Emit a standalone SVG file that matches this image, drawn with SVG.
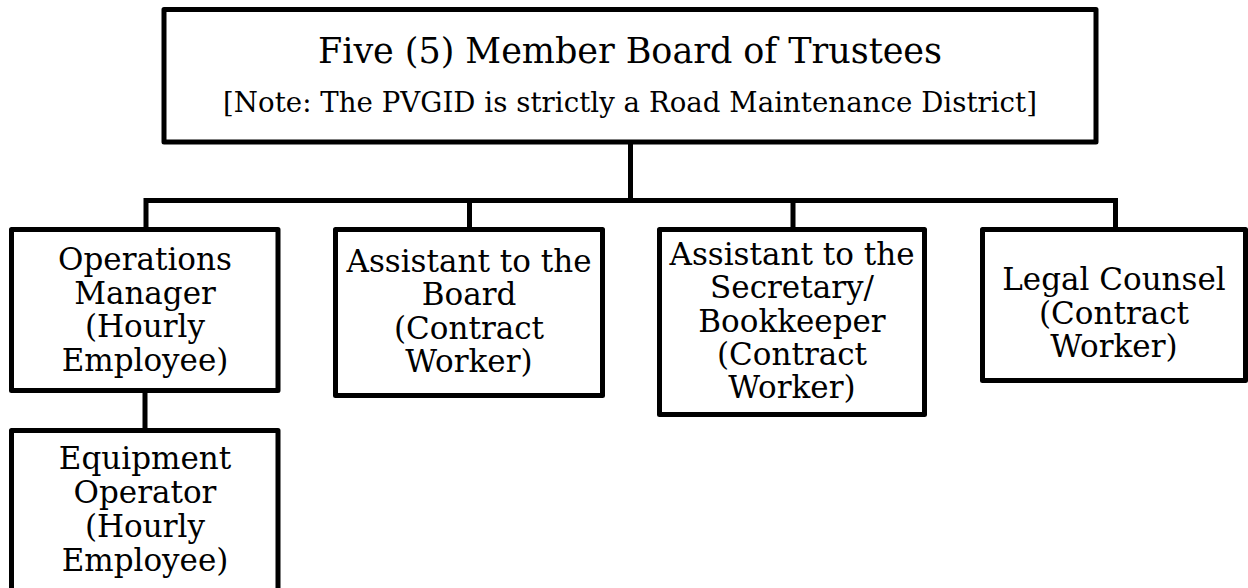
<svg xmlns="http://www.w3.org/2000/svg" width="1248" height="588" viewBox="0 0 1248 588">
<style>
.box{fill:#fff;stroke:#000;stroke-width:5;stroke-linejoin:round}
.conn{fill:none;stroke:#000;stroke-width:5;stroke-linecap:butt}
text{font-family:"DejaVu Serif","Liberation Serif",serif;fill:#000;text-anchor:middle}
.t{font-size:31px}
.title{font-size:35px}
.note{font-size:27.6px}
</style>
<rect width="1248" height="588" fill="#fff"/>
<g id="connectors">
<path class="conn" d="M630.5 142V200.5M146 200.5H1115.5M146 198V229.5M469.5 200.5V229.5M793 200.5V229.5M1115.5 198V229.5M145 390.5V430.5"/>
</g>
<g id="board">
<rect class="box" x="164" y="9.5" width="932" height="132.5"/>
<text class="title" x="630" y="63" textLength="624">Five (5) Member Board of Trustees</text>
<text class="note" x="630" y="112" textLength="814">[Note: The PVGID is strictly a Road Maintenance District]</text>
</g>
<g id="ops-manager">
<rect class="box" x="11.5" y="229.5" width="266.5" height="161"/>
<text class="t" x="145" y="270">Operations</text>
<text class="t" x="145" y="303.5">Manager</text>
<text class="t" x="145" y="337">(Hourly</text>
<text class="t" x="145" y="370.5">Employee)</text>
</g>
<g id="asst-board">
<rect class="box" x="335.5" y="229.5" width="267" height="166"/>
<text class="t" x="469" y="272">Assistant to the</text>
<text class="t" x="469" y="305">Board</text>
<text class="t" x="469" y="338.5">(Contract</text>
<text class="t" x="469" y="372">Worker)</text>
</g>
<g id="asst-secretary">
<rect class="box" x="659.5" y="229.5" width="265" height="185"/>
<text class="t" x="792" y="265">Assistant to the</text>
<text class="t" x="792" y="298">Secretary/</text>
<text class="t" x="792" y="331.5">Bookkeeper</text>
<text class="t" x="792" y="365">(Contract</text>
<text class="t" x="792" y="398">Worker)</text>
</g>
<g id="legal">
<rect class="box" x="982.5" y="229.5" width="263" height="151"/>
<text class="t" x="1114" y="290">Legal Counsel</text>
<text class="t" x="1114" y="323.5">(Contract</text>
<text class="t" x="1114" y="357">Worker)</text>
</g>
<g id="equip-operator">
<rect class="box" x="11.5" y="430.5" width="266.5" height="160"/>
<text class="t" x="145" y="469">Equipment</text>
<text class="t" x="145" y="503">Operator</text>
<text class="t" x="145" y="537">(Hourly</text>
<text class="t" x="145" y="570.5">Employee)</text>
</g>
</svg>
